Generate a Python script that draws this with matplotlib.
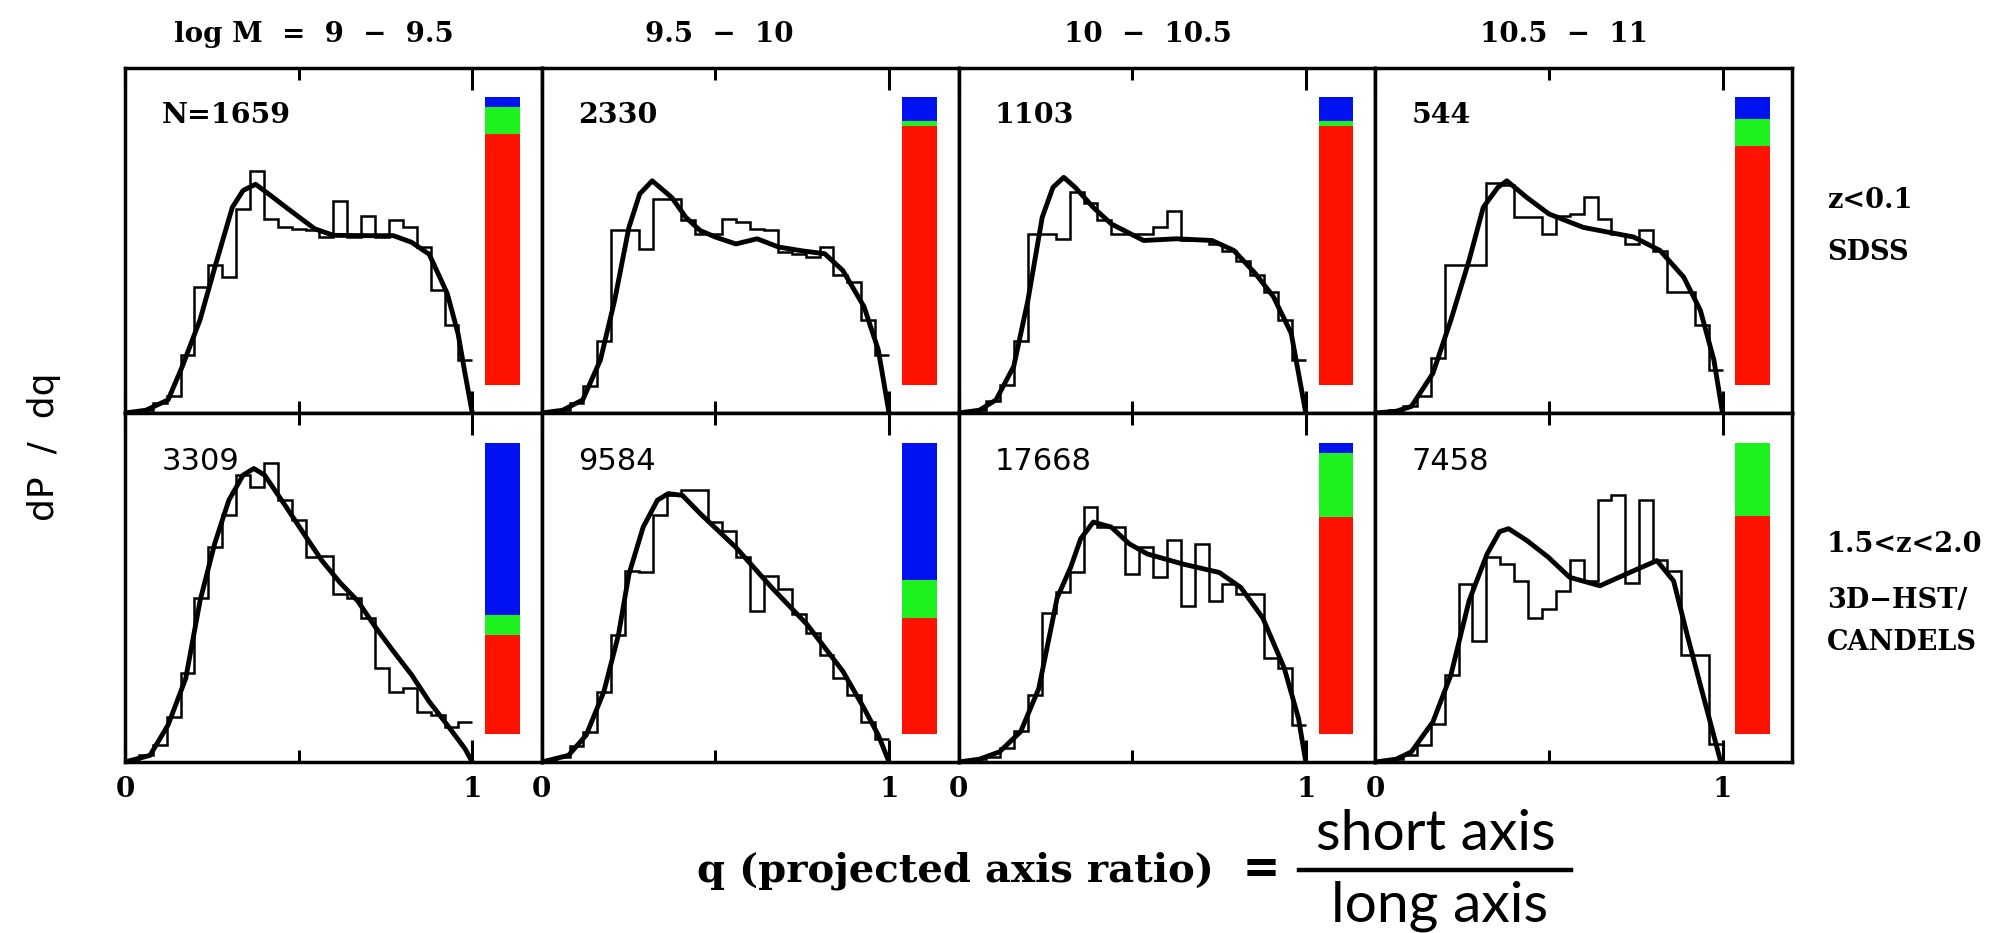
import numpy as np
import matplotlib
matplotlib.use("Agg")
import matplotlib.pyplot as plt
from matplotlib.ticker import FixedLocator, FixedFormatter
from matplotlib.lines import Line2D

# ---------------- data ----------------
mass_bins = ["log M  =  9  \u2212  9.5", "9.5  \u2212  10", "10  \u2212  10.5", "10.5  \u2212  11"]
panel_counts = ["N=1659", "2330", "1103", "544", "3309", "9584", "17668", "7458"]
row_labels_top = ["z<0.1", "SDSS"]
row_labels_bottom = ["1.5<z<2.0", "3D\u2212HST/", "CANDELS"]

# histograms: 25 bins of width 0.04 in q (values in units of panel height)
hist_p1 = [0.005, 0.01, 0.03, 0.048, 0.168, 0.365, 0.428, 0.394, 0.591, 0.702, 0.5625, 0.538, 0.534,
           0.529, 0.51, 0.615, 0.51, 0.572, 0.51, 0.558, 0.538, 0.481, 0.356, 0.255, 0.154]
hist_p2 = [0.003, 0.01, 0.029, 0.077, 0.21, 0.529, 0.529, 0.476, 0.62, 0.62, 0.558, 0.519, 0.519,
           0.5625, 0.553, 0.534, 0.529, 0.466, 0.4615, 0.452, 0.481, 0.399, 0.38, 0.269, 0.168]
hist_p3 = [0.003, 0.01, 0.035, 0.08, 0.21, 0.519, 0.519, 0.505, 0.64, 0.61, 0.56, 0.52, 0.52,
           0.52, 0.54, 0.585, 0.5, 0.5, 0.49, 0.47, 0.44, 0.4, 0.35, 0.27, 0.155]
hist_p4 = [0.003, 0.01, 0.02, 0.05, 0.159, 0.43, 0.43, 0.43, 0.668, 0.66, 0.567, 0.567, 0.519,
           0.572, 0.577, 0.625, 0.5625, 0.519, 0.49, 0.529, 0.47, 0.35, 0.35, 0.255, 0.125]
hist_p5 = [0.005, 0.02, 0.048, 0.13, 0.255, 0.471, 0.615, 0.707, 0.822, 0.788, 0.856, 0.75, 0.692,
           0.587, 0.591, 0.481, 0.471, 0.413, 0.269, 0.202, 0.2115, 0.144, 0.135, 0.101, 0.115]
hist_p6 = [0.003, 0.015, 0.045, 0.087, 0.202, 0.365, 0.548, 0.543, 0.707, 0.764, 0.779, 0.779, 0.6875,
           0.663, 0.587, 0.433, 0.534, 0.495, 0.423, 0.37, 0.308, 0.24, 0.192, 0.115, 0.067]
hist_p7 = [0.003, 0.01, 0.015, 0.04, 0.09, 0.192, 0.428, 0.486, 0.543, 0.73, 0.673, 0.673, 0.538,
           0.615, 0.529, 0.635, 0.447, 0.625, 0.462, 0.51, 0.48, 0.48, 0.298, 0.27, 0.106]
hist_p8 = [0.003, 0.01, 0.02, 0.05, 0.11, 0.25, 0.51, 0.346, 0.587, 0.567, 0.519, 0.413, 0.4375,
           0.49, 0.58, 0.52, 0.75, 0.764, 0.514, 0.75, 0.58, 0.548, 0.308, 0.308, 0.053]

# model curves (q, dP/dq)
curve_q_p1 = [0, 0.06, 0.124, 0.165, 0.216, 0.258, 0.309, 0.34, 0.376, 0.42, 0.464, 0.546, 0.6, 0.7, 0.773, 0.825, 0.876, 0.928, 0.959, 0.979, 1.0]
curve_f_p1 = [0, 0.008, 0.038, 0.135, 0.27, 0.42, 0.596, 0.645, 0.663, 0.63, 0.596, 0.534, 0.515, 0.514, 0.514, 0.495, 0.46, 0.346, 0.23, 0.115, 0]
curve_q_p2 = [0, 0.06, 0.118, 0.169, 0.21, 0.251, 0.282, 0.318, 0.374, 0.415, 0.456, 0.5, 0.559, 0.62, 0.682, 0.75, 0.815, 0.867, 0.928, 0.969, 1.0]
curve_f_p2 = [0, 0.008, 0.038, 0.154, 0.327, 0.538, 0.635, 0.673, 0.625, 0.567, 0.529, 0.51, 0.49, 0.505, 0.481, 0.47, 0.4615, 0.413, 0.308, 0.183, 0]
curve_q_p3 = [0, 0.06, 0.108, 0.159, 0.2, 0.241, 0.272, 0.303, 0.336, 0.388, 0.44, 0.533, 0.627, 0.73, 0.793, 0.855, 0.907, 0.958, 1.0]
curve_f_p3 = [0, 0.008, 0.038, 0.135, 0.327, 0.567, 0.654, 0.683, 0.654, 0.596, 0.548, 0.5, 0.505, 0.5, 0.471, 0.404, 0.337, 0.231, 0]
curve_q_p4 = [0, 0.06, 0.104, 0.166, 0.218, 0.27, 0.311, 0.353, 0.379, 0.436, 0.5, 0.599, 0.744, 0.82, 0.888, 0.936, 0.975, 1.0]
curve_f_p4 = [0, 0.005, 0.019, 0.115, 0.27, 0.442, 0.596, 0.654, 0.673, 0.625, 0.577, 0.538, 0.51, 0.471, 0.394, 0.298, 0.154, 0]
curve_q_p5 = [0, 0.072, 0.124, 0.175, 0.216, 0.258, 0.299, 0.34, 0.371, 0.402, 0.464, 0.515, 0.567, 0.619, 0.67, 0.722, 0.773, 0.825, 0.876, 0.928, 0.979, 1.0]
curve_f_p5 = [0, 0.019, 0.106, 0.24, 0.4615, 0.625, 0.75, 0.822, 0.841, 0.822, 0.731, 0.654, 0.577, 0.514, 0.4615, 0.385, 0.317, 0.25, 0.173, 0.106, 0.038, 0]
curve_q_p6 = [0, 0.077, 0.128, 0.179, 0.221, 0.251, 0.292, 0.333, 0.364, 0.405, 0.456, 0.559, 0.662, 0.764, 0.867, 0.928, 0.969, 1.0]
curve_f_p6 = [0, 0.019, 0.077, 0.202, 0.365, 0.538, 0.673, 0.75, 0.769, 0.764, 0.712, 0.615, 0.5, 0.394, 0.26, 0.154, 0.077, 0]
curve_q_p7 = [0, 0.06, 0.118, 0.179, 0.231, 0.284, 0.323, 0.352, 0.388, 0.44, 0.492, 0.544, 0.647, 0.751, 0.813, 0.876, 0.938, 0.979, 1.0]
curve_f_p7 = [0, 0.008, 0.029, 0.087, 0.21, 0.47, 0.558, 0.64, 0.6875, 0.673, 0.625, 0.596, 0.567, 0.543, 0.5, 0.413, 0.269, 0.125, 0]
curve_q_p8 = [0, 0.06, 0.104, 0.166, 0.218, 0.27, 0.322, 0.358, 0.384, 0.436, 0.498, 0.56, 0.647, 0.744, 0.811, 0.859, 0.898, 0.936, 0.995]
curve_f_p8 = [0, 0.008, 0.029, 0.115, 0.25, 0.4615, 0.596, 0.66, 0.6685, 0.635, 0.587, 0.529, 0.505, 0.548, 0.577, 0.519, 0.365, 0.221, 0]

# shape fractions (stacked bar): oblate (red), spheroidal (green), prolate (blue)
frac_red = [0.874, 0.902, 0.899, 0.83, 0.339, 0.397, 0.745, 0.75]
frac_green = [0.094, 0.015, 0.018, 0.095, 0.069, 0.132, 0.218, 0.25]
frac_blue = [0.032, 0.083, 0.083, 0.075, 0.592, 0.471, 0.037, 0.0]

hists = [hist_p1, hist_p2, hist_p3, hist_p4, hist_p5, hist_p6, hist_p7, hist_p8]
curves_q = [curve_q_p1, curve_q_p2, curve_q_p3, curve_q_p4, curve_q_p5, curve_q_p6, curve_q_p7, curve_q_p8]
curves_f = [curve_f_p1, curve_f_p2, curve_f_p3, curve_f_p4, curve_f_p5, curve_f_p6, curve_f_p7, curve_f_p8]

# ---------------- layout / style ----------------
W, H = 1991, 933
fig = plt.figure(figsize=(W / 100, H / 100), dpi=100)
fig.patch.set_facecolor("white")

SERIF = "DejaVu Serif"
C_RED, C_GREEN, C_BLUE = "#FF1200", "#1EF21E", "#0012F0"

left_px, panel_w_px = 125, 416.75
rows_px = [(68, 413), (413, 762)]
edges = np.linspace(0, 1, 26)
bar_x, bar_w, bar_y0, bar_len = 1.087, 0.1, 0.08, 0.835

for r in range(2):
    top, bot = rows_px[r]
    for c in range(4):
        i = r * 4 + c
        ax = fig.add_axes([(left_px + c * panel_w_px) / W, 1 - bot / H,
                           panel_w_px / W, (bot - top) / H])
        ax.set_xlim(0, 1.2)
        ax.set_ylim(0, 1)
        ax.stairs(hists[i], edges, baseline=None, color="k", lw=1.8, zorder=3)
        ax.plot(curves_q[i], curves_f[i], color="k", lw=3.5,
                solid_joinstyle="round", solid_capstyle="round", zorder=4)
        b0 = bar_y0
        for frac, col in ((frac_red[i], C_RED), (frac_green[i], C_GREEN), (frac_blue[i], C_BLUE)):
            ax.bar(bar_x, frac * bar_len, bottom=b0, width=bar_w, color=col, lw=0, zorder=2)
            b0 += frac * bar_len
        ax.text(0.105, 0.862, panel_counts[i], ha="left", va="center",
                fontsize=20.5 if r == 0 else 22,
                family=SERIF if r == 0 else "DejaVu Sans",
                fontweight="bold" if r == 0 else "normal", zorder=5)
        for s in ax.spines.values():
            s.set_linewidth(2.5)
            s.set_zorder(6)
        ax.set_yticks([])
        ax.xaxis.set_major_locator(FixedLocator([0, 1]))
        ax.xaxis.set_minor_locator(FixedLocator([0.5]))
        ax.xaxis.set_major_formatter(FixedFormatter(["0", "1"]))
        ax.tick_params(axis="x", which="major", direction="in", top=True, bottom=True,
                       length=16, width=2.2, labelbottom=(r == 1), pad=10,
                       labelsize=20)
        ax.tick_params(axis="x", which="minor", direction="in", top=True, bottom=True,
                       length=8.5, width=2.2)
        for lab in ax.get_xticklabels():
            lab.set_family(SERIF)
            lab.set_fontweight("bold")

# column titles
title_x_px = [314, 719, 1148, 1564]
for t, xp in zip(mass_bins, title_x_px):
    fig.text(xp / W, 1 - 34 / H, t, ha="center", va="center", family=SERIF,
             fontweight="bold", fontsize=20)

# row labels on the right
for t, yp in zip(row_labels_top, [200, 252]):
    fig.text(1827 / W, 1 - yp / H, t, ha="left", va="center", family=SERIF,
             fontweight="bold", fontsize=19.5)
for t, yp in zip(row_labels_bottom, [545, 600, 642]):
    fig.text(1827 / W, 1 - yp / H, t, ha="left", va="center", family=SERIF,
             fontweight="bold", fontsize=19.5)

# axis labels
fig.text(44 / W, 1 - 447 / H, "dP  /  dq", rotation=90, ha="center", va="center",
         family="DejaVu Sans", fontsize=26)
fig.text(955 / W, 1 - 871 / H, "q (projected axis ratio)", ha="center", va="center",
         family=SERIF, fontweight="bold", fontsize=29)
fig.text(1261 / W, 1 - 870 / H, "=", ha="center", va="center", family="Lato",
         fontweight="bold", fontsize=46)
fig.text(1436 / W, 1 - 834 / H, "short axis", ha="center", va="center", family="Lato",
         fontsize=41)
fig.text(1440 / W, 1 - 906 / H, "long axis", ha="center", va="center", family="Lato",
         fontsize=41)
fig.add_artist(Line2D([1299 / W, 1571 / W], [1 - 870 / H, 1 - 870 / H],
                      transform=fig.transFigure, color="k", lw=3.2))

fig.savefig("out.png", dpi=100, facecolor="white")
